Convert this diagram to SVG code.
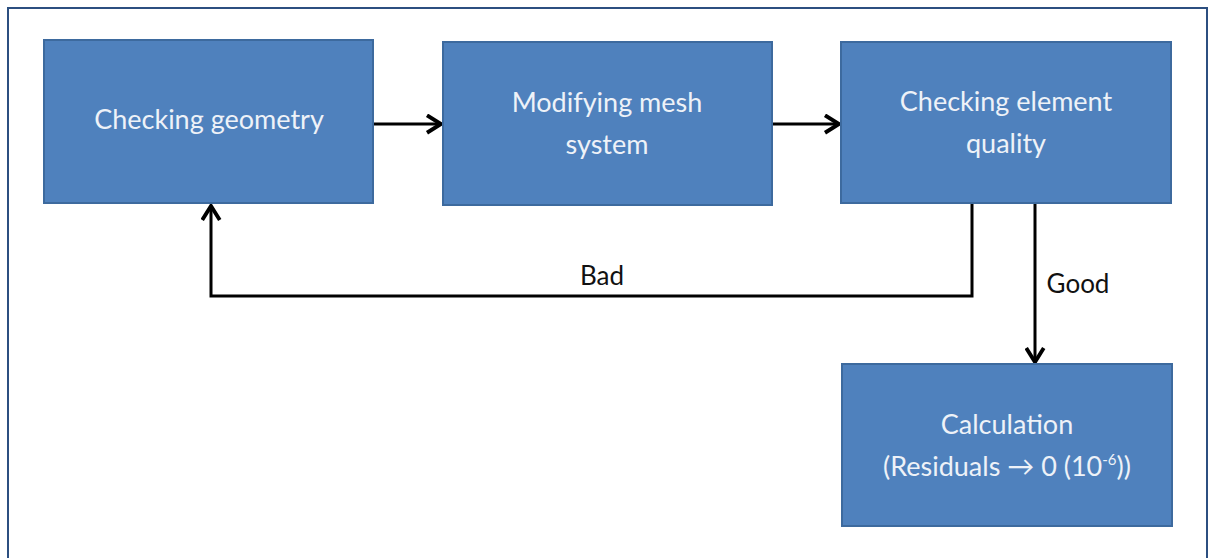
<svg xmlns="http://www.w3.org/2000/svg" width="1210" height="558" viewBox="0 0 1210 558">
<style>
.box{fill:#4F81BD;stroke:#3D6A9E;stroke-width:2}
.t{font-family:Lato,"Open Sans",sans-serif;font-size:27px;fill:#EEF2F8;text-anchor:middle}
.lbl{font-family:Lato,"Open Sans",sans-serif;font-size:26px;fill:#111;text-anchor:middle}
.c{fill:none;stroke:#000;stroke-width:3;marker-end:url(#ah)}
</style>
<defs>
<marker id="ah" viewBox="0 0 12 12" refX="10" refY="6" markerWidth="7" markerHeight="7" markerUnits="strokeWidth" orient="auto">
<path d="M2,1 L10,6 L2,11" fill="none" stroke="#000" stroke-width="2.2"/>
</marker>
</defs>
<rect x="0" y="0" width="1210" height="558" fill="#fff"/>
<rect x="8" y="8" width="1199" height="560" fill="none" stroke="#2C4F80" stroke-width="2"/>
<g id="connectors">
<path class="c" d="M374,124 H441"/>
<path class="c" d="M773,124 H839"/>
<path class="c" d="M972,204 V296 H211 V206"/>
<path class="c" d="M1035,204 V362"/>
<text class="lbl" x="602" y="285">Bad</text>
<text class="lbl" x="1078" y="293">Good</text>
</g>
<g id="n1"><rect class="box" x="44" y="40" width="329" height="163"/><text class="t" x="209" y="129">Checking geometry</text></g>
<g id="n2"><rect class="box" x="443" y="42" width="329" height="163"/><text class="t" x="607" y="112">Modifying mesh</text><text class="t" x="607" y="154">system</text></g>
<g id="n3"><rect class="box" x="841" y="42" width="330" height="161"/><text class="t" x="1006" y="111">Checking element</text><text class="t" x="1006" y="153">quality</text></g>
<g id="n4"><rect class="box" x="842" y="364" width="330" height="162"/><text class="t" x="1007" y="434">Calculation</text><text class="t" x="1007" y="476">(Residuals → 0 (10<tspan font-size="15" dy="-11">-6</tspan><tspan dy="11">))</tspan></text></g>
</svg>
